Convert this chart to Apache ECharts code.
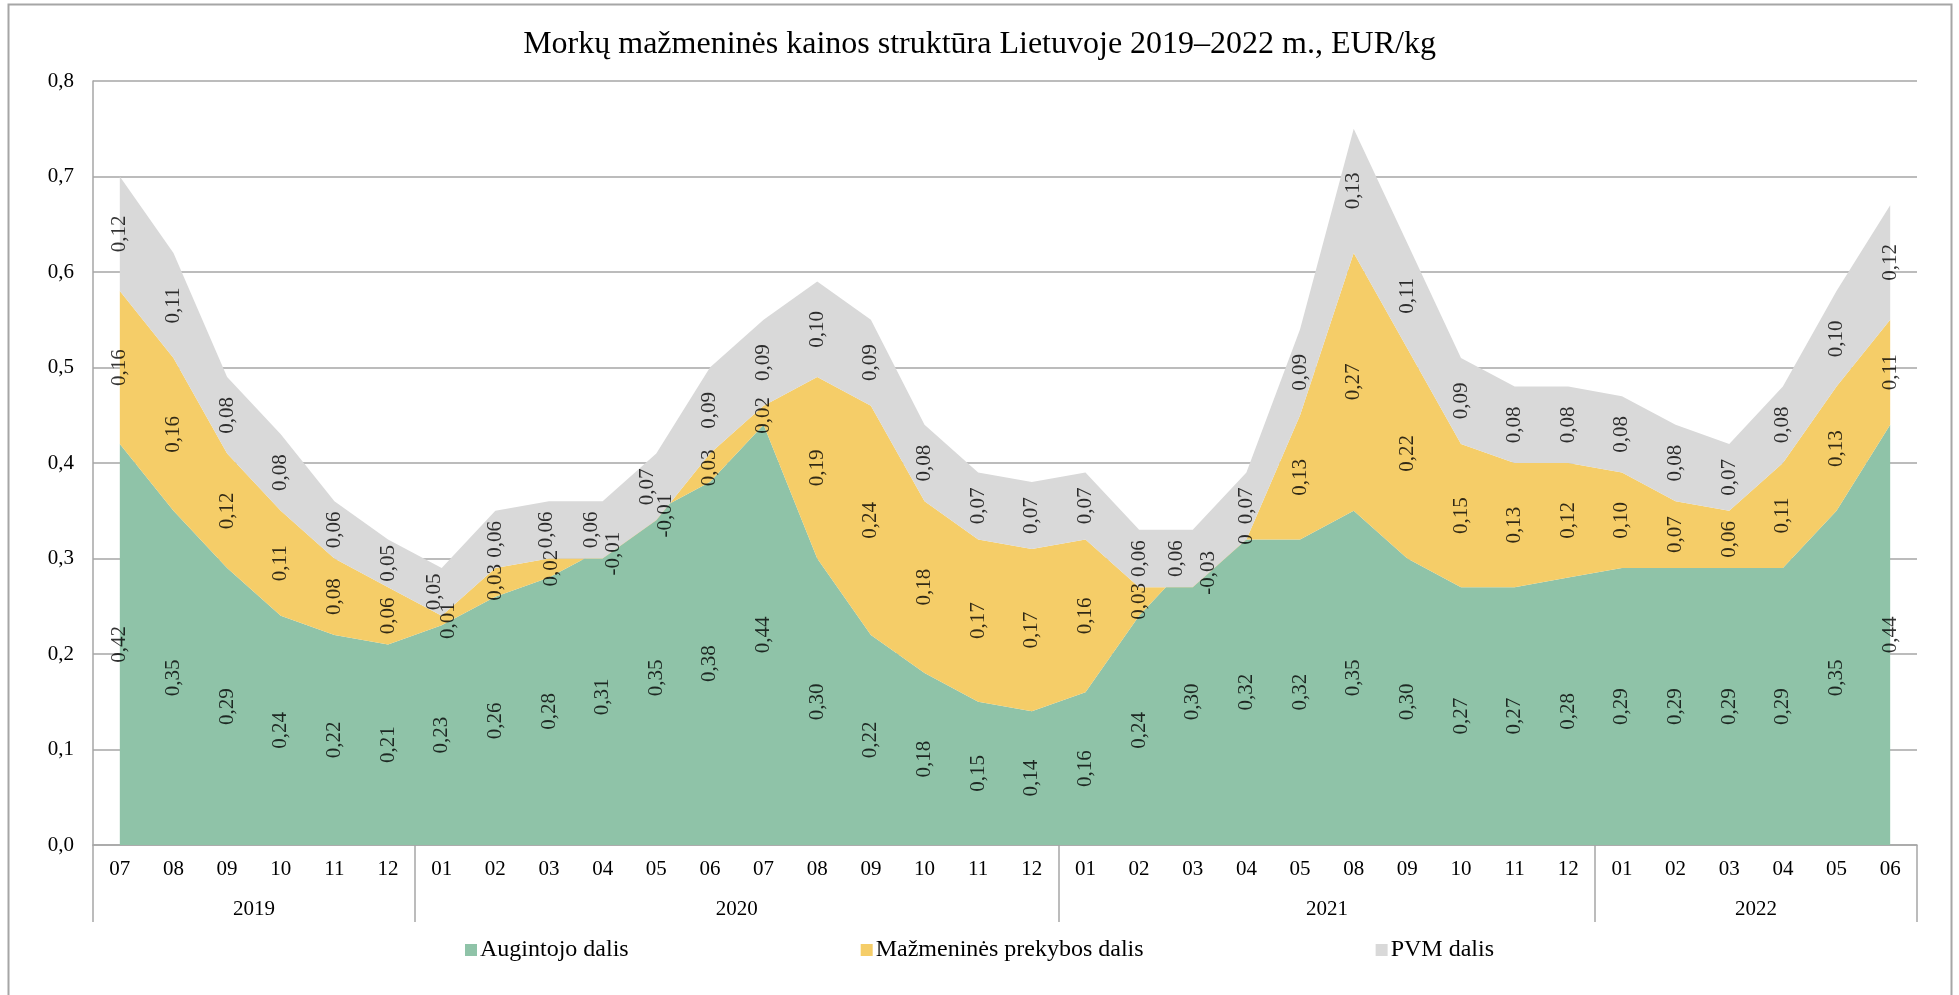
<!DOCTYPE html>
<html>
<head>
<meta charset="utf-8">
<script src="https://cdn.jsdelivr.net/npm/echarts@6/dist/echarts.min.js"></script>
<style>
html,body{margin:0;padding:0;background:#fff;}
#chart{width:1959px;height:995px;}
</style>
</head>
<body>
<div id="chart"></div>
<script>
// ---- data ----
const months = ['07','08','09','10','11','12',
  '01','02','03','04','05','06','07','08','09','10','11','12',
  '01','02','03','04','05','08','09','10','11','12',
  '01','02','03','04','05','06'];
const years = ['2019','2020','2021','2022'];
const yearCounts = [6, 12, 10, 6];
const seriesNames = ['Augintojo dalis', 'Mažmeninės prekybos dalis', 'PVM dalis'];
const grower = [0.42,0.35,0.29,0.24,0.22,0.21,
  0.23,0.26,0.28,0.31,0.35,0.38,0.44,0.30,0.22,0.18,0.15,0.14,
  0.16,0.24,0.30,0.32,0.32,0.35,0.30,0.27,0.27,0.28,
  0.29,0.29,0.29,0.29,0.35,0.44];
const retail = [0.16,0.16,0.12,0.11,0.08,0.06,
  0.01,0.03,0.02,-0.01,-0.01,0.03,0.02,0.19,0.24,0.18,0.17,0.17,
  0.16,0.03,-0.03,0,0.13,0.27,0.22,0.15,0.13,0.12,
  0.10,0.07,0.06,0.11,0.13,0.11];
const vat = [0.12,0.11,0.08,0.08,0.06,0.05,
  0.05,0.06,0.06,0.06,0.07,0.09,0.09,0.10,0.09,0.08,0.07,0.07,
  0.07,0.06,0.06,0.07,0.09,0.13,0.11,0.09,0.08,0.08,
  0.08,0.08,0.07,0.08,0.10,0.12];
const colors = ['#8fc3a8', '#f5cd68', '#d9d9d9'];

// ---- derived ----
const FONT = '"Liberation Serif", "Times New Roman", serif';
const LABEL_SIZE = 21;
const GRID = {left: 93, right: 42, top: 81, bottom: 150};
const Y_MAX = 0.8;
const plotH = 995 - GRID.top - GRID.bottom;
const layers = [grower, retail, vat];
const fmt = v => v === 0 ? '0' : v.toFixed(2).replace('.', ',');
const boundaries = [0];
yearCounts.forEach((c, i) => boundaries.push(boundaries[i] + c));
const centers = yearCounts.map((c, i) => boundaries[i] + c / 2);

// measure label lengths to separate overlapping rotated labels
const ctx = document.createElement('canvas').getContext('2d');
ctx.font = LABEL_SIZE + 'px ' + FONT;
const toPx = v => GRID.top + (Y_MAX - v) / Y_MAX * plotH;
const mids = layers.map((arr, k) => arr.map((v, i) => {
  let base = 0;
  for (let j = 0; j < k; j++) base += layers[j][i];
  return base + v / 2;
}));
const shifts = layers.map(arr => arr.map(() => 0));
for (let i = 0; i < months.length; i++) {
  const c = [0, 1, 2].map(k => toPx(mids[k][i]));
  const h = [0, 1, 2].map(k => ctx.measureText(fmt(layers[k][i])).width / 2);
  const gap = 6;
  for (let iter = 0; iter < 4; iter++) {
    for (const [lo, hi] of [[1, 2], [0, 1]]) {
      const ov = (c[hi] + h[hi] + gap) - (c[lo] - h[lo]);
      if (ov > 0) { c[lo] += ov / 2; c[hi] -= ov / 2; }
    }
  }
  [0, 1, 2].forEach(k => { shifts[k][i] = c[k] - toPx(mids[k][i]); });
}

const areaSeries = layers.map((arr, k) => ({
  name: seriesNames[k],
  type: 'line',
  stack: 'total',
  stackStrategy: 'all',
  symbol: 'none',
  lineStyle: {width: 0},
  areaStyle: {color: colors[k], opacity: 1},
  itemStyle: {color: colors[k]},
  data: arr,
  z: 2 + k
}));

const labelSeries = layers.map((arr, k) => ({
  name: 'lbl' + k,
  type: 'scatter',
  symbolSize: 1,
  itemStyle: {color: 'rgba(0,0,0,0)'},
  silent: true,
  z: 10,
  data: arr.map((v, i) => ({
    value: mids[k][i],
    label: {offset: [0, shifts[k][i]]}
  })),
  label: {
    show: true, position: 'inside', rotate: 90,
    fontFamily: FONT, fontSize: LABEL_SIZE, color: '#000',
    formatter: p => fmt(arr[p.dataIndex])
  }
}));

const chart = echarts.init(document.getElementById('chart'), null, {renderer: 'canvas'});
chart.setOption({
  animation: false,
  backgroundColor: '#fff',
  textStyle: {fontFamily: FONT},
  title: {
    text: 'Morkų mažmeninės kainos struktūra Lietuvoje 2019–2022 m., EUR/kg',
    left: 'center', top: 24,
    textStyle: {fontFamily: FONT, fontSize: 32, fontWeight: 'normal', color: '#000'}
  },
  legend: {
    data: seriesNames,
    bottom: 28, left: 'center',
    icon: 'rect', itemWidth: 12, itemHeight: 12, itemGap: 232,
    textStyle: {fontFamily: FONT, fontSize: 24, color: '#000', padding: [0, 0, 0, -2]}
  },
  grid: {left: GRID.left, right: GRID.right, top: GRID.top, bottom: GRID.bottom, containLabel: false},
  xAxis: [{
    type: 'category',
    data: months,
    boundaryGap: true,
    axisLine: {show: true, lineStyle: {color: '#a6a6a6', width: 1.5}},
    axisTick: {show: false},
    axisLabel: {fontFamily: FONT, fontSize: 21, color: '#000', margin: 14, interval: 0}
  }, {
    type: 'value',
    min: 0, max: months.length,
    position: 'bottom',
    axisLine: {show: false},
    splitLine: {show: false},
    axisTick: {show: true, customValues: boundaries, length: 77, inside: false,
      lineStyle: {color: '#a6a6a6', width: 1.5}},
    axisLabel: {show: true, customValues: centers, margin: 54,
      fontFamily: FONT, fontSize: 21, color: '#000',
      formatter: v => { const i = centers.indexOf(v); return i >= 0 ? years[i] : ''; }}
  }],
  yAxis: {
    type: 'value', min: 0, max: Y_MAX, interval: 0.1,
    axisLine: {show: true, lineStyle: {color: '#a6a6a6', width: 1.5}},
    axisTick: {show: false},
    splitLine: {show: true, lineStyle: {color: '#a6a6a6', width: 1.5}},
    axisLabel: {fontFamily: FONT, fontSize: 21, color: '#000', margin: 19,
      formatter: v => v.toFixed(1).replace('.', ',')}
  },
  graphic: [{
    type: 'rect', silent: true, z: 100,
    shape: {x: 8.5, y: 4.5, width: 1943, height: 1000},
    style: {fill: 'none', stroke: '#a6a6a6', lineWidth: 2}
  }],
  series: areaSeries.concat(labelSeries)
});
</script>
</body>
</html>
